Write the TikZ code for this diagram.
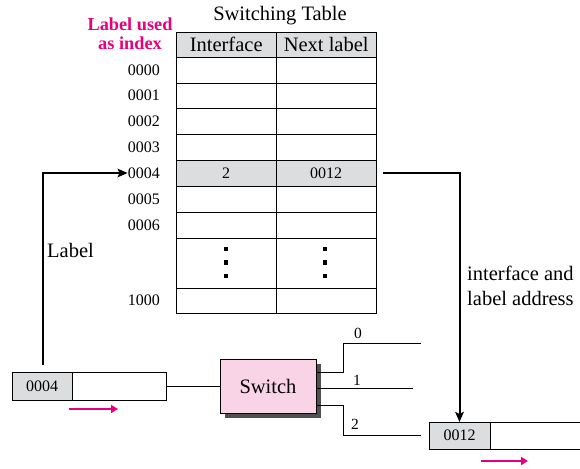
\documentclass[tikz,border=0pt]{standalone}
\usepackage{fontspec}
\setmainfont{Liberation Serif}
\usetikzlibrary{arrows.meta,positioning,shadows}
\definecolor{cellgray}{RGB}{220,221,223}
\definecolor{labelpink}{RGB}{230,0,126}
\definecolor{switchpink}{RGB}{249,212,230}
\definecolor{shadowgray}{RGB}{80,80,80}
\newcommand{\bigtext}{\fontsize{20.5}{25}\selectfont}
\newcommand{\smalltext}{\fontsize{16}{19}\selectfont}

\begin{document}
\begin{tikzpicture}[
  x=1pt, y=-1pt,
  cell/.style={draw, anchor=north west, minimum width=100pt, inner sep=0pt, font=\smalltext},
  headcell/.style={cell, fill=cellgray, minimum height=25pt, font=\bigtext},
  idx/.style={anchor=east, inner sep=0pt, font=\smalltext},
  dot/.style={fill, minimum size=4.5pt, inner sep=0pt},
  pkthead/.style={draw, fill=cellgray, minimum width=60pt, minimum height=28pt, inner sep=0pt, outer sep=0pt, font=\smalltext},
  pktbody/.style={draw, minimum width=94pt, minimum height=28pt, inner sep=0pt, outer sep=0pt},
  switchbox/.style={draw, fill=switchpink, minimum width=96pt, minimum height=54pt, font=\bigtext,
    drop shadow={shadow xshift=4.5pt, shadow yshift=-5pt, fill=shadowgray, opacity=1}},
  portlab/.style={inner sep=0pt, font=\fontsize{15.5}{18}\selectfont},
  wire/.style={line width=0.9pt},
  arrow/.style={-{Stealth[length=10pt, width=8.5pt, inset=2pt]}, line width=2pt},
  flow/.style={-{Triangle[length=7pt, width=8pt]}, line width=2pt, labelpink}
]
\useasboundingbox (0,0) rectangle (580,468);

% switching table
\node[font=\bigtext] (title) at (280,16) {Switching Table};
\node[headcell] (hif) at (176,32) {Interface};
\node[headcell] (hnl) at (276,32) {Next label};
\node[align=center, inner sep=0pt, text=labelpink, font=\fontsize{18.3}{19.5}\selectfont\bfseries] (idxlab) at (130,33.5) {Label used\\as index};

\foreach \lab/\rowy/\rowh in {0000/57/26, 0001/83/25, 0002/108/26, 0003/134/26, 0005/186/26, 0006/212/26, 1000/288/25} {
  \node[cell, minimum height=\rowh pt] (if\lab) at (176,\rowy) {};
  \node[cell, minimum height=\rowh pt] (nl\lab) at (276,\rowy) {};
  \node[idx] (i\lab) at (160,\rowy+\rowh/2) {\lab};
}
\node[cell, minimum height=26pt, fill=cellgray] (if0004) at (176,160) {2};
\node[cell, minimum height=26pt, fill=cellgray] (nl0004) at (276,160) {0012};
\node[idx] (i0004) at (160,173) {0004};

\node[cell, minimum height=50pt] (ifdots) at (176,238) {};
\node[cell, minimum height=50pt] (nldots) at (276,238) {};
\foreach \k/\d in {1/249, 2/262.5, 3/276} {
  \node[dot] (dif\k) at (226,\d) {};
  \node[dot] (dnl\k) at (325,\d) {};
}

% packets and switch
\node[pkthead] (inhead) at (42,386) {0004};
\node[pktbody, right=0pt of inhead] (inbody) {};
\node[pkthead, minimum height=27pt, minimum width=61pt] (outhead) at (459.5,435.5) {0012};
\node[pktbody, minimum height=27pt, minimum width=92pt, right=0pt of outhead] (outbody) {};
\node[switchbox] (sw) at (268,386) {Switch};

\draw[wire] (inbody.east) -- (sw.west);
\coordinate (o0) at (421,343);
\coordinate (o1) at (413,388);
\coordinate (o2) at (421,435);
\draw[wire] ([yshift=14pt]sw.east) -- ++(27,0) |- (o0);
\draw[wire] ([yshift=-2pt]sw.east) -- (o1);
\draw[wire] ([yshift=-19pt]sw.east) -- ++(27,0) |- (o2);
\node[portlab] (p0) at (358,333) {0};
\node[portlab] (p1) at (357,380) {1};
\node[portlab] (p2) at (355,424) {2};

% lookup arrows
\coordinate (lblfoot) at (43,365);
\draw[arrow] (lblfoot) |- (i0004.west);
\node[font=\bigtext, anchor=west, inner sep=0pt] (lbl) at (47,250) {Label};
\draw[arrow] ([xshift=7pt]nl0004.east) -| (outhead.north);
\node[font=\bigtext, align=left, anchor=west, inner sep=0pt] (ifaddr) at (467,285.5) {interface and\\label address};

\draw[flow] ([xshift=-3pt, yshift=-9pt]inbody.south west) -- ++(49,0);
\draw[flow] ([xshift=-9pt, yshift=-12pt]outbody.south west) -- ++(47,0);
\end{tikzpicture}
\end{document}
